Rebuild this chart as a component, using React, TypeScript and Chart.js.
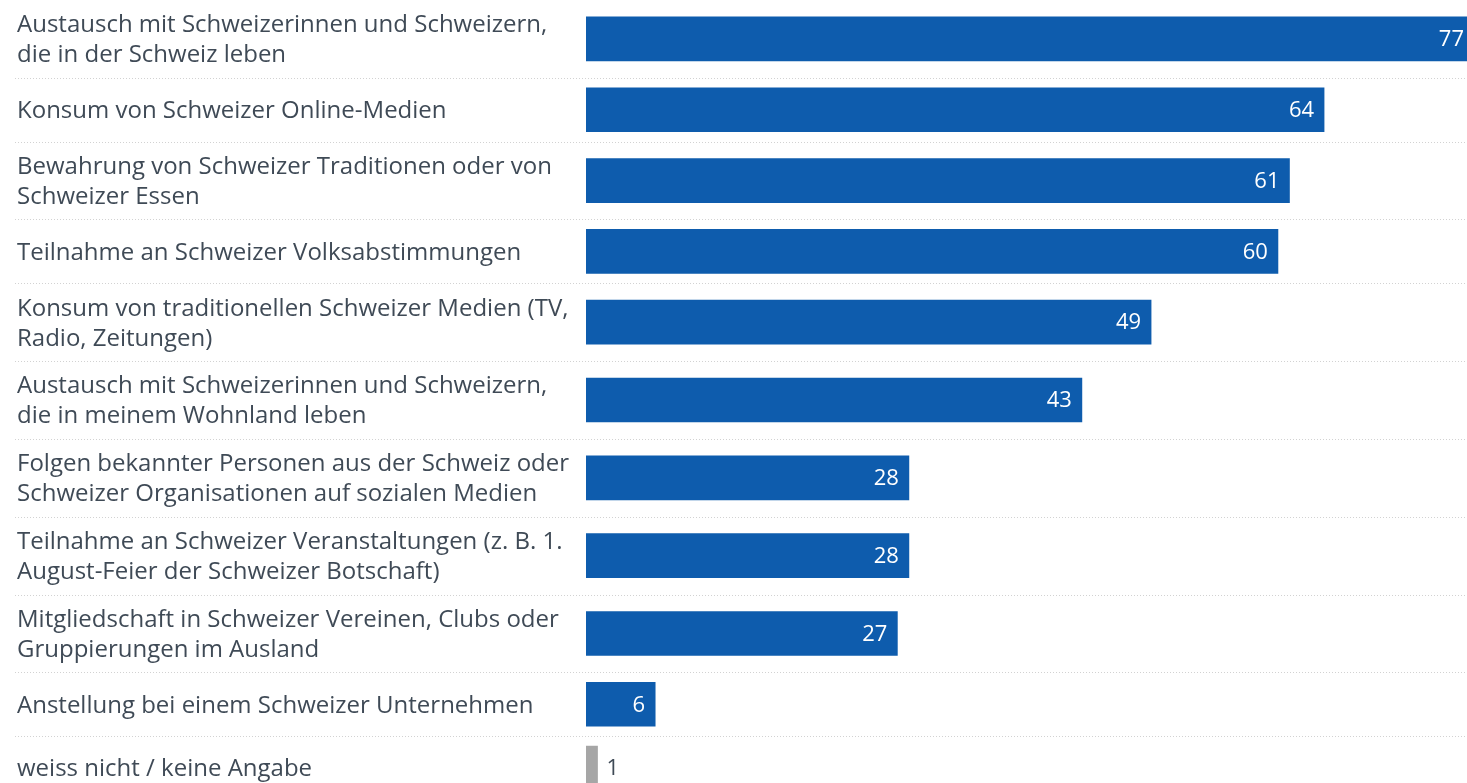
import { useEffect, useRef } from "react";
import { Chart, registerables } from "chart.js";

Chart.register(...registerables);

const CATEGORIES: string[][] = [
  ["Austausch mit Schweizerinnen und Schweizern,", "die in der Schweiz leben"],
  ["Konsum von Schweizer Online-Medien"],
  ["Bewahrung von Schweizer Traditionen oder von", "Schweizer Essen"],
  ["Teilnahme an Schweizer Volksabstimmungen"],
  ["Konsum von traditionellen Schweizer Medien (TV,", "Radio, Zeitungen)"],
  ["Austausch mit Schweizerinnen und Schweizern,", "die in meinem Wohnland leben"],
  ["Folgen bekannter Personen aus der Schweiz oder", "Schweizer Organisationen auf sozialen Medien"],
  ["Teilnahme an Schweizer Veranstaltungen (z. B. 1.", "August-Feier der Schweizer Botschaft)"],
  ["Mitgliedschaft in Schweizer Vereinen, Clubs oder", "Gruppierungen im Ausland"],
  ["Anstellung bei einem Schweizer Unternehmen"],
  ["weiss nicht / keine Angabe"],
];

const VALUES: number[] = [77, 64, 61, 60, 49, 43, 28, 28, 27, 6, 1];

const NEUTRAL_LABEL = "weiss nicht / keine Angabe";

const BAR_COLOR = "#0e5cad";
const NEUTRAL_COLOR = "#a6a6a6";
const TEXT_COLOR = "#3f4a56";
const FONT_FAMILY = "'Open Sans', 'Noto Sans', sans-serif";

// Row height grows with the number of label lines
const ROW_BASE = 49.8;
const ROW_PER_LINE = 14;

export default function App() {
  const canvasRef = useRef<HTMLCanvasElement | null>(null);

  useEffect(() => {
    const canvas = canvasRef.current;
    if (!canvas) return;

    const centers: number[] = [];
    const boundaries: number[] = [];
    let acc = 0;
    CATEGORIES.forEach((lines, i) => {
      const h = ROW_BASE + ROW_PER_LINE * lines.length;
      centers.push(acc + h / 2);
      acc += h;
      if (i < CATEGORIES.length - 1) boundaries.push(acc);
    });
    const total = acc;

    const isNeutral = (i: number) => CATEGORIES[i].join(" ") === NEUTRAL_LABEL;

    const separatorPlugin = {
      id: "separators",
      beforeDatasetsDraw(chart: any) {
        const { ctx } = chart;
        const yScale = chart.scales.y;
        ctx.save();
        ctx.strokeStyle = "#d2d2d2";
        ctx.lineWidth = 1;
        ctx.setLineDash([1, 2]);
        boundaries.forEach((b) => {
          const y = Math.round(yScale.getPixelForValue(b)) + 0.5;
          ctx.beginPath();
          ctx.moveTo(15, y);
          ctx.lineTo(chart.width, y);
          ctx.stroke();
        });
        ctx.restore();
      },
    };

    const valueLabelPlugin = {
      id: "valueLabels",
      afterDatasetsDraw(chart: any) {
        const { ctx } = chart;
        const meta = chart.getDatasetMeta(0);
        ctx.save();
        ctx.font = `22px ${FONT_FAMILY}`;
        ctx.textBaseline = "middle";
        meta.data.forEach((bar: any, i: number) => {
          const v = VALUES[i];
          const width = Math.abs(bar.x - bar.base);
          if (width > 40) {
            ctx.fillStyle = "#ffffff";
            ctx.textAlign = "right";
            ctx.fillText(String(v), bar.x - 10, bar.y + 1);
          } else {
            ctx.fillStyle = TEXT_COLOR;
            ctx.textAlign = "left";
            ctx.fillText(String(v), bar.x + 9, bar.y + 1);
          }
        });
        ctx.restore();
      },
    };

    const chart = new Chart(canvas, {
      type: "bar",
      data: {
        datasets: [
          {
            data: VALUES.map((v, i) => ({ x: v, y: centers[i] })),
            backgroundColor: VALUES.map((_, i) => (isNeutral(i) ? NEUTRAL_COLOR : BAR_COLOR)),
            borderWidth: 0,
            barThickness: 44,
          } as any,
        ],
      },
      options: {
        indexAxis: "y",
        responsive: false,
        animation: false,
        layout: { padding: { left: 17, right: 0, top: 0, bottom: 0 } },
        plugins: {
          legend: { display: false },
          tooltip: { enabled: false },
        },
        scales: {
          x: {
            type: "linear",
            display: false,
            min: 0,
            max: Math.max(...VALUES),
          },
          y: {
            type: "linear",
            reverse: true,
            offset: false,
            min: 0,
            max: total,
            grid: { display: false, offset: false },
            border: { display: false },
            afterBuildTicks: (scale: any) => {
              scale.ticks = centers.map((c) => ({ value: c }));
            },
            afterFit: (scale: any) => {
              scale.width = 586 - 17;
              scale.paddingTop = 0;
              scale.paddingBottom = 0;
            },
            ticks: {
              autoSkip: false,
              crossAlign: "far",
              padding: 0,
              labelOffset: 1.5,
              color: TEXT_COLOR,
              font: { family: FONT_FAMILY, size: 24, lineHeight: 1.25 },
              callback: (_v: any, index: number) => CATEGORIES[index],
            },
          } as any,
        },
      },
      plugins: [separatorPlugin, valueLabelPlugin],
    });

    return () => chart.destroy();
  }, []);

  return (
    <div
      style={{
        position: "fixed",
        left: 0,
        top: 0,
        width: 1467,
        height: 783,
        overflow: "hidden",
        background: "#ffffff",
      }}
    >
      <canvas ref={canvasRef} width={1474} height={800} style={{ display: "block" }} />
    </div>
  );
}
